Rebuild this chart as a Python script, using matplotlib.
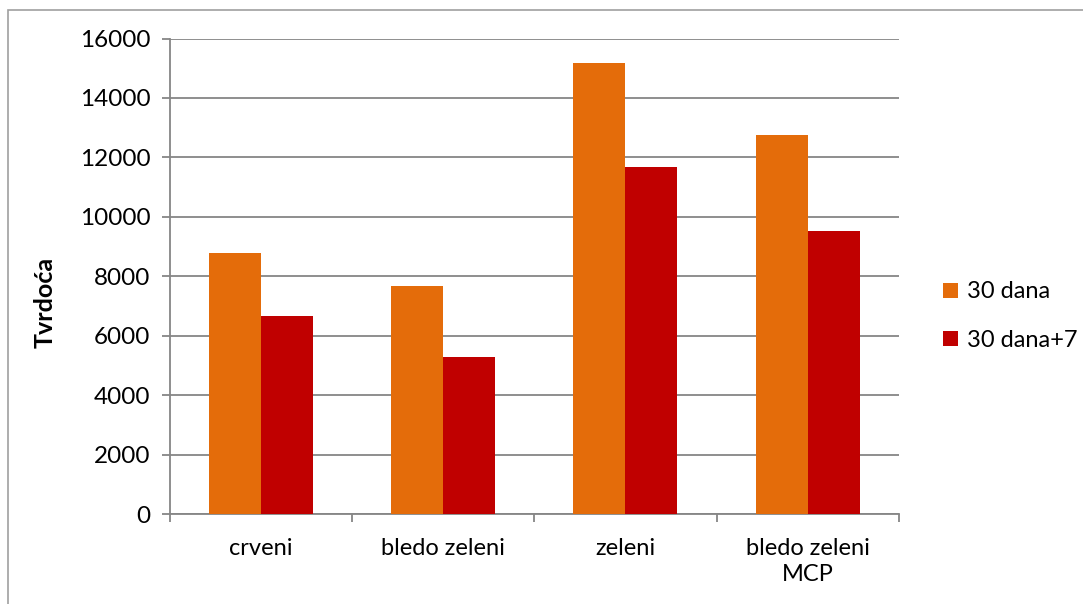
import matplotlib
matplotlib.use("Agg")
import matplotlib.pyplot as plt
import numpy as np
from matplotlib.patches import Rectangle

plt.rcParams['font.family'] = ['Lato', 'DejaVu Sans']

kategorije = ['crveni', 'bledo zeleni', 'zeleni', 'bledo zeleni\nMCP']
serije = ['30 dana', '30 dana+7']
dana_30 = [8780, 7680, 15190, 12760]
dana_30_7 = [6670, 5300, 11690, 9520]
y_ticks = [0, 2000, 4000, 6000, 8000, 10000, 12000, 14000, 16000]

boje = ['#E46C0A', '#C00000']
siva = '#868686'

W, H = 1083, 604
fig = plt.figure(figsize=(W / 100, H / 100), dpi=100)
ax = fig.add_axes([170 / W, (H - 514.3) / H, 728.7 / W, 475.8 / H])

x = np.arange(len(kategorije))
w = 1 / 3.5
ax.bar(x - w / 2, dana_30, w, color=boje[0], label=serije[0], zorder=3)
ax.bar(x + w / 2, dana_30_7, w, color=boje[1], label=serije[1], zorder=3)

ax.set_xlim(-0.5, len(kategorije) - 0.5)
ax.set_ylim(0, 16000)
ax.set_yticks(y_ticks)
ax.set_yticklabels([str(v) for v in y_ticks], fontsize=17.5)
ax.yaxis.grid(True, color=siva, linewidth=1.3, zorder=0)
ax.set_axisbelow(True)

# category labels between boundary ticks
ax.set_xticks(np.arange(-0.5, len(kategorije), 1))
ax.set_xticklabels([])
ax.set_xticks(x, minor=True)
ax.set_xticklabels(kategorije, minor=True, fontsize=17, linespacing=1.3)
ax.tick_params(axis='x', which='minor', length=0, pad=17)
ax.tick_params(axis='x', which='major', length=6, color=siva, width=1.3)
ax.tick_params(axis='y', length=6, color=siva, width=1.3, pad=8)

for s in ['top', 'right']:
    ax.spines[s].set_visible(False)
for s in ['left', 'bottom']:
    ax.spines[s].set_color(siva)
    ax.spines[s].set_linewidth(1.3)

ax.set_ylabel('Tvrdoća', fontsize=18, fontweight='bold')
ax.yaxis.set_label_coords(57 / W, 0.5, transform=fig.transFigure)

fig.legend(loc='upper left', bbox_to_anchor=(934 / W, 1 - 272 / H),
           frameon=False, fontsize=17, handlelength=0.6, handleheight=0.6,
           handletextpad=0.4, labelspacing=1.15, borderaxespad=0)

# outer chart border
fig.patches.append(Rectangle((8 / W, -0.1), 1.2, 1 - 10 / H + 0.1,
                             transform=fig.transFigure, fill=False,
                             edgecolor='#A0A0A0', linewidth=1.2))

fig.savefig('out.png', dpi=100)
